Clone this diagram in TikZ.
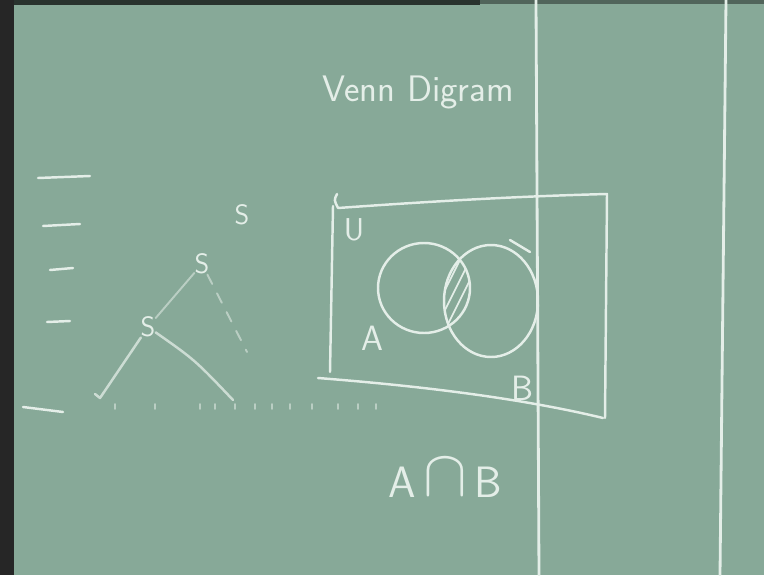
\documentclass[tikz,border=0pt]{standalone}
\usepackage{graphicx}
\usetikzlibrary{positioning}

\definecolor{board}{HTML}{87A998}
\definecolor{chalk}{HTML}{E4EEE8}

\begin{document}
\begin{tikzpicture}[
    x=0.02cm, y=-0.02cm,
    line/.style={draw=chalk, line width=1.4pt, line cap=round, line join=round},
    faint/.style={draw=chalk, line width=1.1pt, line cap=round, opacity=0.55},
    hand/.style={text=chalk, inner sep=0pt, font=\sffamily}
  ]
    \useasboundingbox (0,0) rectangle (764,575);
    % board
    \fill[board] (0,0) rectangle (764,575);
    \fill[black!85] (0,0) rectangle (14,575);
    \fill[black!70!board] (14,0) rectangle (480,5);
    \fill[black!40!board] (480,0) rectangle (764,4);
    \draw[line, line width=1.6pt] (536,0) -- (539,575);
    \draw[line, line width=1.6pt] (726,0) -- (720,575);

    % title
    \node[hand, font=\sffamily\fontsize{21}{24}\selectfont] (title) at (418,92) {Venn Digram};

    % universe box
    \draw[line] (337,194) .. controls (334,200) .. (338,208)
      .. controls (450,200) and (530,196) .. (607,194)
      -- (605,418);
    \draw[line] (333,206) -- (330,372);
    \draw[line] (318,378) .. controls (420,386) and (520,398) .. (603,418);
    \node[hand, font=\sffamily\fontsize{18}{20}\selectfont] (univ) at (354,230) {U};

    % sets
    \draw[line] (424,288) ellipse [x radius=46, y radius=45];
    \draw[line] (491,301) ellipse [x radius=47, y radius=56];
    \draw[line] (510,240) -- (530,252);
    \begin{scope}
      \clip (424,288) ellipse [x radius=46, y radius=45];
      \clip (491,301) ellipse [x radius=47, y radius=56];
      \foreach \i in {400,410,...,500}
        \draw[line, line width=1pt] (\i,340) -- ++(45,-90);
    \end{scope}
    \node[hand, font=\sffamily\fontsize{20}{22}\selectfont] (seta) at (372,338) {A};
    \node[hand, font=\sffamily\fontsize{20}{22}\selectfont] (setb) at (522,388) {B};

    \node[hand, font=\sffamily\fontsize{25}{28}\selectfont] (inter) at (445,478)
      {A\,\raisebox{0.1ex}{\scalebox{1.5}{$\cap$}}\,B};

    % left margin marks
    \draw[line] (38,178) -- (90,176);
    \draw[line] (43,226) -- (80,224);
    \draw[line] (50,270) -- (73,268);
    \draw[line] (47,322) -- (70,321);
    \draw[line] (23,407) -- (63,412);

    % parse tree
    \node[hand, font=\sffamily\fontsize{16}{18}\selectfont] (s1) at (242,215) {S};
    \node[hand, font=\sffamily\fontsize{16}{18}\selectfont] (s2) at (202,264) {S};
    \node[hand, font=\sffamily\fontsize{16}{18}\selectfont] (s3) at (148,327) {S};
    \coordinate (leafa) at (100,398);
    \coordinate (leafb) at (233,400);
    \coordinate (leafc) at (247,352);
    \draw[faint] (s2) -- (s3);
    \draw[faint, dash pattern=on 6pt off 6pt] (s2) -- (leafc);
    \draw[line, opacity=0.75] (s3) -- (leafa) -- ++(-5,-4);
    \draw[line, opacity=0.75] (s3) .. controls (195,360) .. (leafb);
    \foreach \x in {115,155,200,215,235,255,272,290,312,338,358,376}
      \draw[faint] (\x,404) -- ++(0,5);
  \end{tikzpicture}
\end{document}
